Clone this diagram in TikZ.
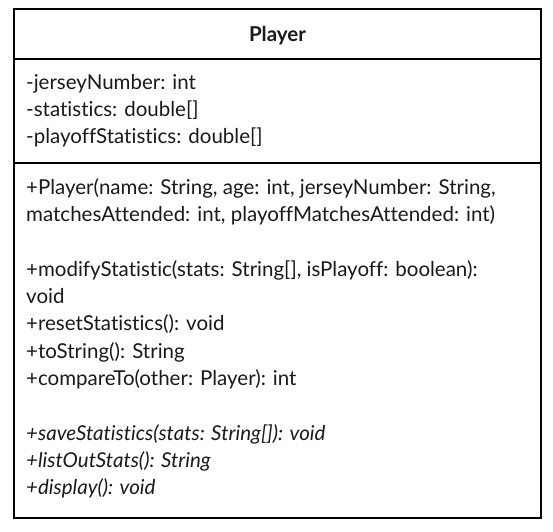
\documentclass[tikz,border=0pt]{standalone}
\usepackage{fontspec}
\setmainfont{Lato}[Ligatures=NoCommon]
\usetikzlibrary{positioning}
\definecolor{border}{HTML}{000000}
\definecolor{textMain}{HTML}{1A1A1A}
\tikzset{
  classframe/.style={
    rectangle, draw=border, fill=white, line width=2.5pt,
    inner sep=0pt,
  },
  divider/.style={draw=border, line width=2.5pt},
  titletext/.style={
    font=\fontsize{20.5}{24}\selectfont\bfseries, text=textMain,
    inner sep=0pt,
  },
  membertext/.style={
    font=\fontsize{20.5}{24}\selectfont, text=textMain, anchor=west,
    inner sep=0pt, text height=14pt, text depth=4pt,
  },
  abstracttext/.style={
    membertext, font=\fontsize{20.5}{24}\selectfont\itshape,
  },
}

\begin{document}
\begin{tikzpicture}[x=1pt, y=-1pt]

  \useasboundingbox (0,0) rectangle (553,531);

  % Class frame
  \node[classframe, minimum width=527pt, minimum height=509pt] (frame) at (277.5, 263.5) {};
  \coordinate (hdrline) at (0, 59);
  \coordinate (attrline) at (0, 163);
  \draw[divider] (frame.west |- hdrline) -- (frame.east |- hdrline);
  \draw[divider] (frame.west |- attrline) -- (frame.east |- attrline);

  % Name
  \node[titletext] (name) at (277.5, 36) {Player};

  % Attributes
  \node[membertext] (jersey) at (26, 84) {-jerseyNumber: int};
  \node[membertext] (stats) at (26, 111) {-statistics: double[]};
  \node[membertext] (pstats) at (26, 138) {-playoffStatistics: double[]};

  % Operations
  \node[membertext] (ctor) at (26, 189) {+Player(name: String, age: int, jerseyNumber: String,};
  \node[membertext] (ctorb) at (26, 216) {matchesAttended: int, playoffMatchesAttended: int)};

  \node[membertext] (modify) at (26, 271) {+modifyStatistic(stats: String[], isPlayoff: boolean):};
  \node[membertext] (modifyb) at (26, 298) {void};
  \node[membertext] (reset) at (26, 325) {+resetStatistics(): void};
  \node[membertext] (tostr) at (26, 353) {+toString(): String};
  \node[membertext] (compare) at (26, 380) {+compareTo(other: Player): int};

  % Abstract operations
  \node[abstracttext] (save) at (26, 435) {+saveStatistics(stats: String[]): void};
  \node[abstracttext] (listout) at (26, 462) {+listOutStats(): String};
  \node[abstracttext] (display) at (26, 489) {+display(): void};

\end{tikzpicture}
\end{document}
